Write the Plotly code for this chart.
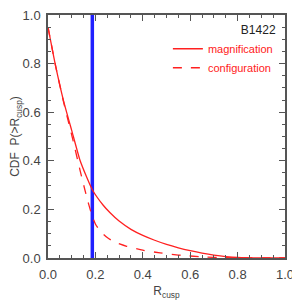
import plotly.graph_objects as go

r_solid = [0.0, 0.03, 0.065, 0.1, 0.135, 0.163, 0.187, 0.233, 0.262, 0.3, 0.35, 0.4, 0.45, 0.5, 0.55, 0.6, 0.65, 0.7, 0.75, 0.8, 0.9, 1.0]
cdf_magnification = [0.95, 0.80, 0.649, 0.525, 0.402, 0.333, 0.281, 0.217, 0.186, 0.152, 0.118, 0.093, 0.073, 0.056, 0.042, 0.030, 0.020, 0.012, 0.006, 0.002, 0.0, 0.0]

r_dashed = [0.0, 0.03, 0.065, 0.085, 0.107, 0.135, 0.163, 0.184, 0.2, 0.219, 0.25, 0.28, 0.332, 0.4, 0.473, 0.55, 0.65, 0.75, 0.85, 1.0]
cdf_configuration = [0.95, 0.80, 0.645, 0.565, 0.478, 0.362, 0.252, 0.18, 0.14, 0.112, 0.084, 0.066, 0.048, 0.032, 0.021, 0.012, 0.005, 0.001, 0.0, 0.0]

r_observed = 0.187
legend_title = "B1422"

FONT = "Liberation Sans, Arial"

fig = go.Figure()
fig.add_trace(go.Scatter(x=[r_observed, r_observed], y=[0, 1], mode="lines",
                         line=dict(color="#2020ff", width=3.5), showlegend=False))
fig.add_trace(go.Scatter(x=r_solid, y=cdf_magnification, mode="lines", name="magnification",
                         line=dict(color="#ff2020", width=1.3, shape="spline", smoothing=0.5)))
fig.add_trace(go.Scatter(x=r_dashed, y=cdf_configuration, mode="lines", name="configuration",
                         line=dict(color="#ff2020", width=1.3, dash="dash", shape="spline", smoothing=0.5)))

axis_common = dict(showline=True, linecolor="#555555", linewidth=1.5, mirror="ticks",
                   ticks="inside", ticklen=6, tickcolor="#555555", showgrid=False, zeroline=False,
                   tickfont=dict(family=FONT, size=13, color="#444444"),
                   tickformat=".1f", dtick=0.2, automargin=False, ticklabeloverflow="allow",
                   minor=dict(ticks="inside", ticklen=3, dtick=0.05, tickcolor="#555555"))

fig.update_xaxes(range=[0, 1], ticklabelstandoff=4,
                 title=dict(text="R<sub>cusp</sub>", font=dict(family=FONT, size=12, color="#444444")),
                 **axis_common)
fig.update_yaxes(range=[0, 1], ticklabelstandoff=3,
                 title=dict(text="CDF  P(>R<sub>cusp</sub>)", font=dict(family=FONT, size=12, color="#444444")),
                 **axis_common)

fig.update_layout(
    width=292, height=292,
    margin=dict(l=40, r=15, t=7, b=42),
    plot_bgcolor="white", paper_bgcolor="white",
    legend=dict(x=0.97, xanchor="right", y=0.985, yanchor="top",
                bgcolor="rgba(0,0,0,0)",
                font=dict(family=FONT, size=11, color="#ff2020"),
                title=dict(text=legend_title, side="top right",
                           font=dict(family=FONT, size=12, color="#222222")),
                itemwidth=30, tracegroupgap=0),
)

fig.write_html("out.html")
